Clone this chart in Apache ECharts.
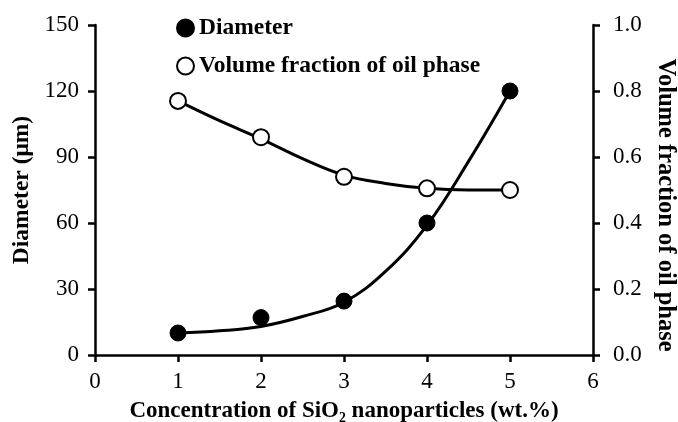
<!DOCTYPE html>
<html>
<head>
<meta charset="utf-8">
<script src="https://cdn.jsdelivr.net/npm/echarts@6/dist/echarts.min.js"></script>
<style>
  html, body { margin: 0; padding: 0; background: #fff; }
  #chart { width: 678px; height: 422px; }
</style>
</head>
<body>
<div id="chart"></div>
<script>
// measured points
const concentration = [1, 2, 3, 4, 5]
const diameter = [10, 17, 24.5, 60, 120]
const volumeFraction = [0.77, 0.66, 0.54, 0.505, 0.50]

// trend curves
const curveX = [1, 1.5, 2, 2.5, 3, 3.5, 4, 4.5, 5]
const diameterCurve = [10, 11, 13, 17.5, 24, 38, 59, 88, 120]
const volumeCurve = [0.77, 0.71, 0.655, 0.595, 0.545, 0.52, 0.505, 0.5, 0.5]

const serif = '"Liberation Serif", "DejaVu Serif", serif'

const pairs = (xs, ys) => xs.map((x, i) => [x, ys[i]])

const axisCommon = {
  axisLine: { show: true, lineStyle: { color: '#000', width: 2.5 } },
  axisTick: { show: true, inside: false, length: 7, lineStyle: { color: '#000', width: 2.5 } },
  splitLine: { show: false },
  axisLabel: { color: '#000', fontFamily: serif, fontSize: 23, margin: 15 },
  nameTextStyle: { color: '#000', fontFamily: serif, fontSize: 23, fontWeight: 'bold' },
}

const myChart = echarts.init(document.getElementById('chart'))

const option = {
  animation: false,
  backgroundColor: '#fff',
  grid: { left: 95, right: 85, top: 25, bottom: 67, outerBoundsMode: 'none' },
  legend: {
    orient: 'vertical',
    left: 171,
    top: 11,
    itemGap: 14,
    itemWidth: 17,
    itemHeight: 17,
    data: ['Diameter', 'Volume fraction of oil phase'],
    textStyle: { color: '#000', fontFamily: serif, fontSize: 23.5, fontWeight: 'bold' },
  },
  xAxis: {
    ...axisCommon,
    type: 'value',
    min: 0,
    max: 6,
    interval: 1,
    name: 'Concentration of SiO₂ nanoparticles (wt.%)',
    nameLocation: 'middle',
    nameGap: 45,
  },
  yAxis: [
    {
      ...axisCommon,
      type: 'value',
      min: 0,
      max: 150,
      interval: 30,
      axisLabel: { ...axisCommon.axisLabel, margin: 16 },
      name: 'Diameter (μm)',
      nameLocation: 'middle',
      nameGap: 61,
      nameTextStyle: { ...axisCommon.nameTextStyle, fontSize: 23.5 },
    },
    {
      ...axisCommon,
      type: 'value',
      position: 'right',
      min: 0,
      max: 1,
      interval: 0.2,
      axisLabel: { ...axisCommon.axisLabel, margin: 20, formatter: v => v.toFixed(1) },
      name: 'Volume fraction of oil phase',
      nameLocation: 'middle',
      nameRotate: -90,
      nameGap: 59,
      nameTextStyle: { ...axisCommon.nameTextStyle, fontSize: 24.5, padding: [0, 0, 0, 30] },
    },
  ],
  series: [
    {
      name: 'Diameter curve',
      type: 'line',
      smooth: 0.4,
      showSymbol: false,
      yAxisIndex: 0,
      lineStyle: { color: '#000', width: 3 },
      data: pairs(curveX, diameterCurve),
      z: 2,
    },
    {
      name: 'Volume curve',
      type: 'line',
      smooth: 0.4,
      showSymbol: false,
      yAxisIndex: 1,
      lineStyle: { color: '#000', width: 3 },
      data: pairs(curveX, volumeCurve),
      z: 2,
    },
    {
      name: 'Diameter',
      type: 'scatter',
      yAxisIndex: 0,
      symbol: 'circle',
      symbolSize: 16,
      itemStyle: { color: '#000', borderColor: '#000', borderWidth: 1, opacity: 1 },
      data: pairs(concentration, diameter),
      z: 3,
    },
    {
      name: 'Volume fraction of oil phase',
      type: 'scatter',
      yAxisIndex: 1,
      symbol: 'circle',
      symbolSize: 16,
      itemStyle: { color: '#fff', borderColor: '#000', borderWidth: 2, opacity: 1 },
      data: pairs(concentration, volumeFraction),
      z: 3,
    },
  ],
}

myChart.setOption(option)
</script>
</body>
</html>
